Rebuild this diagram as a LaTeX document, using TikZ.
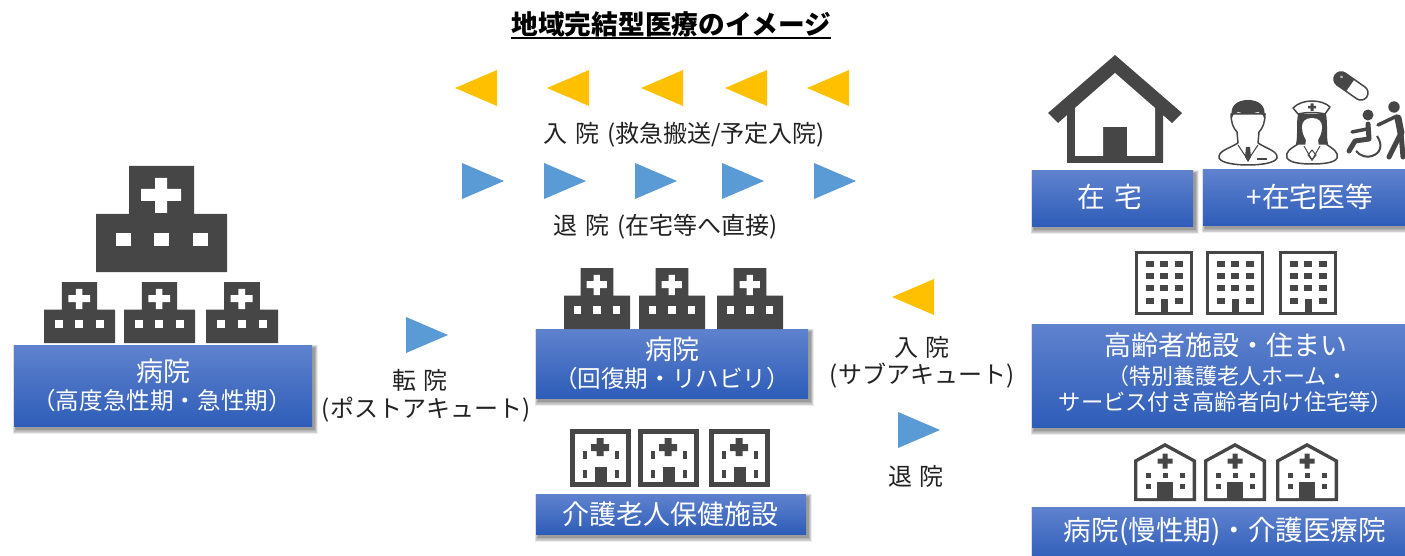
\documentclass[tikz,border=0pt]{standalone}
\usepackage{fontspec}
\setmainfont{Noto Sans CJK JP}
\newcommand\fs[1]{\fontsize{#1}{#1}\selectfont}
\newcommand\gp{\kern0.33em}
\definecolor{icon}{HTML}{464646}
\definecolor{gold}{HTML}{FFC000}
\definecolor{sky}{HTML}{5B9BD5}
\definecolor{boxtop}{HTML}{5F82CE}
\definecolor{boxbot}{HTML}{2E5DB8}
\definecolor{ink}{HTML}{222222}
\tikzset{
  bluebox/.style={shade,top color=boxtop,bottom color=boxbot,draw=none,inner sep=0pt,outer sep=0pt,rectangle},
  whitetxt/.style={text=white,inner sep=0pt,align=center},
  blacktxt/.style={text=ink,inner sep=0pt,align=center},
  icondark/.style={fill=icon,draw=none},
  iconwhite/.style={fill=white,draw=none},
  goldtri/.style={fill=gold,draw=none},
  skytri/.style={fill=sky,draw=none},
  figline/.style={draw=icon,line width=1.5pt,fill=white,line join=round},
  figlimb/.style={draw=icon,line width=5pt,line cap=round,line join=round},
}
% name x1 y1 x2 y2
\newcommand\shbox[5]{%
  \foreach \k in {7,6,5,4,3,2,1}{%
    \fill[black,opacity=0.065] ({#2+2-\k*0.5},{#3+3-\k*0.5}) rectangle ({#4+2+\k*0.5},{#5+3+\k*0.7});
  }%
  \node[bluebox,minimum width={(#4-#2)*1pt},minimum height={(#5-#3)*1pt}] (#1) at ({(#2+#4)/2},{(#3+#5)/2}) {};
}
\newcommand\lgold[2]{\fill[goldtri] (#1,#2) -- ({#1+42},{#2-18}) -- ({#1+42},{#2+18}) -- cycle;}
\newcommand\rsky[2]{\fill[skytri] (#1,{#2-18}) -- ({#1+42},#2) -- (#1,{#2+18}) -- cycle;}
\newcommand\hospA[4]{\begin{scope}[shift={(#1,#2)},xscale=#3/131,yscale=#4/106]
  \fill[icondark] (33,0) -- (98,0) -- (98,48) -- (131,48) -- (131,106) -- (0,106) -- (0,48) -- (33,48) -- cycle;
  \fill[iconwhite] (45,23) rectangle (85,35) (59,12) rectangle (71,47);
  \foreach \wx in {27,65,104}{\fill[iconwhite] ({\wx-7.5},66.5) rectangle ({\wx+7.5},79.5);}
\end{scope}}
\newcommand\careB[2]{\begin{scope}[shift={(#1,#2)}]
  \fill[icondark] (0,0) rectangle (61,58);
  \fill[iconwhite] (5,5) rectangle (56,53);
  \fill[icondark] (21,15) rectangle (39,22) (26.5,9) rectangle (33.5,27);
  \fill[icondark] (25,38) rectangle (37,58);
  \foreach \wx in {15,47}{\foreach \wy in {26,45}{\fill[icondark] ({\wx-2.2},{\wy-4}) rectangle ({\wx+2.2},{\wy+4});}}
\end{scope}}
\newcommand\apt[2]{\begin{scope}[shift={(#1,#2)}]
  \fill[icondark] (0,0) rectangle (58,64);
  \fill[iconwhite] (3.3,3.3) rectangle (54.7,61);
  \foreach \wx in {15,29,44}{\foreach \wy in {13,25,37}{\fill[icondark] ({\wx-3.7},{\wy-3.2}) rectangle ({\wx+3.7},{\wy+3.2});}}
  \foreach \wx in {15,44}{\fill[icondark] ({\wx-3.7},47) rectangle ({\wx+3.7},53);}
  \fill[icondark] (25.5,48) rectangle (32.5,64);
\end{scope}}
\newcommand\clinic[2]{\begin{scope}[shift={(#1,#2)}]
  \fill[icondark] (31,0) -- (62,17) -- (62,58) -- (0,58) -- (0,17) -- cycle;
  \fill[iconwhite] (31,4) -- (58.6,19) -- (58.6,55) -- (3.4,55) -- (3.4,19) -- cycle;
  \fill[icondark] (23.5,15.5) rectangle (38.5,20.5) (28.5,10.5) rectangle (33.5,25.5);
  \fill[icondark] (23,39) rectangle (39,58);
  \foreach \wx/\wy in {14/32,31/32,48/32,14/43,48/43}{\fill[icondark] ({\wx-2.5},{\wy-2.5}) rectangle ({\wx+2.5},{\wy+2.5});}
\end{scope}}
\begin{document}
\begin{tikzpicture}[x=1pt,y=-1pt]
\useasboundingbox (0,0) rectangle (1405,556);
\fill[white] (0,0) rectangle (1405,556);
% title
\node[inner sep=0pt,text=black] (title) at (671.5,24) {\fs{26.7}\bfseries 地域完結型医療のイメージ};
\draw[line width=1.7pt,black] (511,38) -- (831,38);
% triangles
\foreach \tx in {455,547,641,725,807}{\lgold{\tx}{88}}
\foreach \tx in {462,544,635,722,814}{\rsky{\tx}{181}}
\rsky{406}{335}
\lgold{892}{297}
\rsky{898}{430}
% black labels
\node[blacktxt] (l1) at (684,134.5) {\fs{24}入\gp 院\gp(救急搬送/予定入院)};
\node[blacktxt] (l2) at (666,226.5) {\fs{24}退\gp 院\gp(在宅等へ直接)};
\node[blacktxt] (l3) at (420,380) {\fs{24}転\gp 院};
\node[blacktxt] (l4) at (426,410) {\fs{24}(ポストアキュート)};
\node[blacktxt] (l5) at (922,347) {\fs{24}入\gp 院};
\node[blacktxt] (l6) at (922,376) {\fs{24}(サブアキュート)};
\node[blacktxt] (l7) at (916,476) {\fs{24}退\gp 院};
% boxes
\shbox{bA}{14}{345}{312}{426}
\shbox{bB}{536}{329}{808}{398}
\shbox{bC}{536}{494}{806}{534}
\shbox{bD}{1032}{171}{1193}{226}
\shbox{bE}{1203}{170}{1410}{225}
\shbox{bF}{1032}{324}{1410}{427}
\shbox{bG}{1032}{507}{1410}{562}
\node[whitetxt] (tA1) at (163,371.5) {\fs{27}病院};
\node[whitetxt] (tA2) at (162,401) {\fs{23.6}（高度急性期・急性期）};
\node[whitetxt] (tB1) at (672,349) {\fs{27}病院};
\node[whitetxt] (tB2) at (672,379) {\fs{23.6}（回復期・リハビリ）};
\node[whitetxt] (tC) at (670,514) {\fs{27}介護老人保健施設};
\node[whitetxt] (tD) at (1110,197) {\fs{27.8}在\gp 宅};
\node[whitetxt] (tE) at (1310,197) {\fs{27.8}+在宅医等};
\node[whitetxt] (tF1) at (1226,345) {\fs{27}高齢者施設・住まい};
\node[whitetxt] (tF2) at (1228,376) {\fs{22}（特別養護老人ホーム・};
\node[whitetxt] (tF3) at (1226,402) {\fs{22.3}サービス付き高齢者向け住宅等）};
\node[whitetxt] (tG) at (1225,532) {\fs{27.6}病院(慢性期)・介護医療院};
% hospital icons
\hospA{96}{166}{131}{106}
\hospA{44}{282}{71}{61}
\hospA{124}{282}{71}{61}
\hospA{206}{282}{72}{61}
\hospA{564}{268}{66}{61}
\hospA{639}{268}{66}{61}
\hospA{717}{268}{66}{61}
\careB{570}{429}
\careB{638}{429}
\careB{709}{429}
\apt{1135}{251}
\apt{1206}{251}
\apt{1279}{251}
\clinic{1134}{443}
\clinic{1204}{443}
\clinic{1276}{443}
% house
\fill[icondark] (1115,55) -- (1182,113) -- (1172,123) -- (1163,115) -- (1163,163) -- (1067,163) -- (1067,115) -- (1058,123) -- (1048,113) -- cycle;
\fill[iconwhite] (1115,73) -- (1155,108) -- (1155,156) -- (1127,156) -- (1127,127) -- (1103,127) -- (1103,156) -- (1075,156) -- (1075,108) -- cycle;
% doctor
\draw[figline] (1231,114) .. controls (1231,122) and (1233,128) .. (1237,132) -- (1238,143) .. controls (1228,149) and (1218,151) .. (1219,158) .. controls (1221,163) and (1235,165) .. (1248,165) .. controls (1261,165) and (1275,163) .. (1277,158) .. controls (1278,151) and (1267,149) .. (1258,143) -- (1259,132) .. controls (1263,128) and (1265,122) .. (1265,114) -- cycle;
\draw[icon,line width=1pt] (1238,145) -- (1248,160) -- (1258,145);
\fill[icon] (1246,147) -- (1250,147) -- (1251,157) -- (1248,162) -- (1245,157) -- cycle;
\draw[icon,line width=1.2pt] (1257,159) -- (1267,159);
\fill[icon] (1232,118) .. controls (1229,105) and (1238,100) .. (1248,100) .. controls (1258,100) and (1267,105) .. (1264,118) .. controls (1263,114) and (1261,113) .. (1258,112) .. controls (1250,114) and (1244,114) .. (1238,112) .. controls (1235,113) and (1233,114) .. (1232,118) -- cycle;
% nurse
\draw[figline] (1298,144) .. controls (1290,149) and (1285,152) .. (1287,158) .. controls (1290,163) and (1302,164) .. (1312,164) .. controls (1322,164) and (1335,163) .. (1337,158) .. controls (1339,152) and (1333,149) .. (1326,144) -- cycle;
\fill[icon] (1298,114) .. controls (1296,125) and (1298,135) .. (1296,144) -- (1303,144) -- (1321,144) -- (1328,144) .. controls (1326,135) and (1328,125) .. (1326,114) -- cycle;
\fill[white] (1312,118) .. controls (1319,118) and (1322,122) .. (1322,127) .. controls (1322,134) and (1319,138) .. (1318,140) -- (1319,147) -- (1305,147) -- (1306,140) .. controls (1305,138) and (1302,134) .. (1302,127) .. controls (1302,122) and (1305,118) .. (1312,118) -- cycle;
\draw[icon,line width=1pt] (1304,146) -- (1312,160) -- (1320,146);
\draw[icon,line width=1pt] (1312,150) -- (1316,155) -- (1312,160) -- (1308,155) -- cycle;
\draw[figline] (1298,114) -- (1293,108) .. controls (1298,103) and (1305,101) .. (1312,101) .. controls (1319,101) and (1326,103) .. (1330,107) -- (1325,114) .. controls (1316,112) and (1307,112) .. (1298,114) -- cycle;
\fill[icon] (1310.5,103.5) rectangle (1313.5,111) (1308,106) rectangle (1316,108.5);
% pill
\begin{scope}[shift={(1351,86)},rotate=-35]
  \draw[figline] (-12,-7.2) -- (12,-7.2) arc[start angle=-90,delta angle=180,radius=7.2] -- (-12,7.2) arc[start angle=90,delta angle=180,radius=7.2] -- cycle;
  \fill[icon] (-1,-7.2) -- (-12,-7.2) arc[start angle=270,delta angle=-180,radius=7.2] -- (-1,7.2) -- cycle;
  \fill[white,opacity=0.6] (-13,-2) circle[radius=1.6];
\end{scope}
% wheelchair
\fill[icon] (1368,115) circle[radius=5.5];
\fill[icon] (1394,107) circle[radius=5.7];
\draw[figlimb] (1368,124) -- (1369,139) -- (1355,141) -- (1349,151);
\draw[figlimb,line width=3.5pt] (1367,129) -- (1352,132);
\draw[icon,line width=2pt] (1377,136) .. controls (1383,145) and (1381,153) .. (1372,156) .. controls (1367,158) and (1360,156) .. (1356,151);
\draw[figlimb,line width=3.5pt] (1397,116) -- (1378,125);
\draw[figlimb,line width=7pt] (1398,118) -- (1401,133);
\draw[figlimb,line width=5pt] (1401,133) -- (1389,157);
\draw[figlimb,line width=5pt] (1401,133) -- (1403,157);
\end{tikzpicture}
\end{document}
